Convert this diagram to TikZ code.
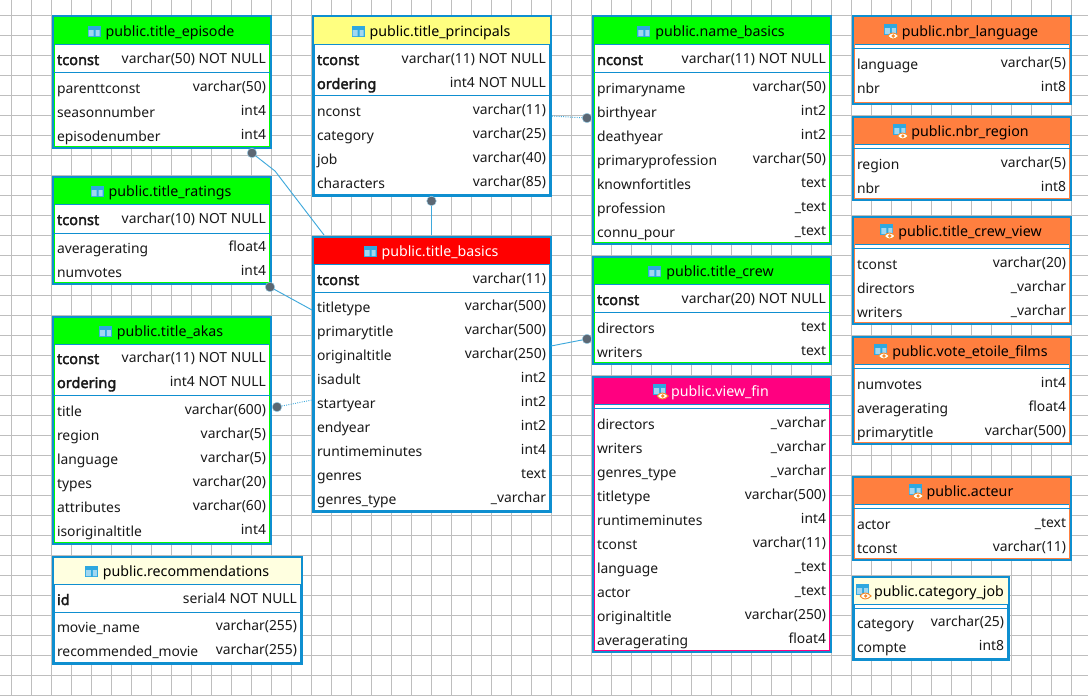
\documentclass[tikz,border=0pt]{standalone}
\usepackage{fontspec}
\setmainfont{Noto Sans}
\newfontfamily\keyf{Noto Sans}[FakeBold=2.5]
\definecolor{tblblue}{HTML}{0F8FD0}
\definecolor{gridc}{HTML}{BEBEBE}
\definecolor{hgreen}{HTML}{00FF00}
\definecolor{hyellow}{HTML}{FFFF80}
\definecolor{hred}{HTML}{FF0000}
\definecolor{hpink}{HTML}{FF0080}
\definecolor{horange}{HTML}{FF7F3F}
\definecolor{hpale}{HTML}{FFFFE0}
\definecolor{dotc}{HTML}{5C6773}
\definecolor{linkc}{HTML}{3FA9DC}
\definecolor{iconb}{HTML}{2FA8E0}
\definecolor{icono}{HTML}{F58A2A}
\tikzset{
  x=0.75pt,y=-0.75pt,
  txt/.style={font=\fontsize{10.4pt}{12pt}\selectfont,inner sep=0pt,outer sep=0pt,text=black!90},
  rowl/.style={txt,anchor=base west},
  rowr/.style={txt,anchor=base east},
  rowk/.style={txt,anchor=base west,font=\fontsize{10.9pt}{12pt}\keyf},
  ttl/.style={txt,anchor=center,font=\fontsize{10.65pt}{12pt}\selectfont},
  tblbox/.style={draw=tblblue,line width=1.7pt,fill=white,anchor=north west,inner sep=0pt,outer sep=0pt},
  sep/.style={draw=tblblue,line width=0.7pt},
  link/.style={draw=linkc,line width=0.7pt},
  linkd/.style={link,densely dotted},
  dot/.style={circle,fill=dotc,draw=linkc!50,line width=0.35pt,minimum size=7.2pt,inner sep=0pt,outer sep=0pt}
}
% #1 name, #2 x0, #3 y0, #4 x1, #5 y1, #6 header fill, #7 header bottom, #8 inner border colour
\newcommand{\tbl}[8]{%
  \node[tblbox,minimum width={(#4-#2-1)*0.75pt},minimum height={(#5-#3-1)*0.75pt}] (#1) at (#2+1,#3+1) {};
  \fill[#6] (#2+2,#3+2) rectangle (#4-1.5,#7);
  \draw[sep] (#2+2,#7) -- (#4-1.5,#7);
  \draw[#8,line width=0.75pt] (#2+2.5,#7) -- (#2+2.5,#5-1.5) -- (#4-2,#5-1.5) -- (#4-2,#7);
}
% #1 name prefix, #2 x0, #3 x1, #4 list y/left/right
\newcommand{\rows}[4]{%
  \foreach \yy/\ll/\rr [count=\ii] in {#4} {
    \node[rowl] (#1l\ii) at (#2+5,\yy+5) {\ll};
    \node[rowr] (#1r\ii) at (#3-5,\yy+3) {\rr};
  }
}
\newcommand{\keys}[4]{%
  \foreach \yy/\ll/\rr [count=\ii] in {#4} {
    \node[rowk] (#1k\ii) at (#2+5,\yy+6) {\ll};
    \node[rowr] (#1s\ii) at (#3-5,\yy+4) {\rr};
  }
}
% #1 name, #2 centre x, #3 y, #4 text, #5 colour
\newcommand{\ttlt}[5]{%
  \node[ttl,text=#5] (#1t) at (#2+9,#3+2) {#4};
  \begin{scope}[shift={(#1t.west)}]
    \fill[iconb] (-18,-7) rectangle (-5,4);
    \fill[white,opacity=.55] (-17,-3) rectangle (-12,3) (-10,-3) rectangle (-6,3);
  \end{scope}
}
\newcommand{\ttlv}[5]{%
  \node[ttl,text=#5] (#1t) at (#2+9,#3+2) {#4};
  \begin{scope}[shift={(#1t.west)}]
    \fill[iconb] (-18,-9) rectangle (-5,2);
    \fill[white,opacity=.55] (-17,-5) rectangle (-12,1) (-10,-5) rectangle (-6,1);
    \draw[icono,line width=0.7pt,fill=white] (-14,3) .. controls (-11,-1) and (-7,-1) .. (-3,3) .. controls (-7,7) and (-11,7) .. (-14,3);
    \fill[icono] (-8.5,3) circle (1.8);
  \end{scope}
}
\newcommand{\dbl}[3]{\draw[sep] (#1+2,#3) -- (#2-1.5,#3);}
\begin{document}
\begin{tikzpicture}
\useasboundingbox (0,0) rectangle (1088,696);
\fill[white] (0,0) rectangle (1088,696);
\foreach \gx in {11.5,31.5,...,1080} \draw[gridc,line width=0.75pt] (\gx,0) -- (\gx,696);
\foreach \gy in {15.5,35.5,...,696} \draw[gridc,line width=0.75pt] (0,\gy) -- (1088,\gy);

% title_episode
\tbl{episode}{52}{15}{271}{148}{hgreen}{44}{hgreen}
\ttlt{episode}{161}{31}{public.title\_episode}{black}
\keys{ep}{52}{271}{59/tconst/varchar(50) NOT NULL}
\dbl{52}{271}{72}
\rows{ep}{52}{271}{88/parenttconst/varchar(50),112/seasonnumber/int4,136/episodenumber/int4}

% title_ratings
\tbl{ratings}{52}{176}{271}{284}{hgreen}{204}{hgreen}
\ttlt{ratings}{161}{191}{public.title\_ratings}{black}
\keys{ra}{52}{271}{219/tconst/varchar(10) NOT NULL}
\dbl{52}{271}{233}
\rows{ra}{52}{271}{248/averagerating/float4,272/numvotes/int4}

% title_akas
\tbl{akas}{52}{316}{271}{544}{hgreen}{344}{hgreen}
\ttlt{akas}{161}{331}{public.title\_akas}{black}
\keys{ak}{52}{271}{358/tconst/varchar(11) NOT NULL,382/ordering/int4 NOT NULL}
\dbl{52}{271}{395}
\rows{ak}{52}{271}{411/title/varchar(600),435/region/varchar(5),459/language/varchar(5),483/types/varchar(20),507/attributes/varchar(60),531/isoriginaltitle/int4}

% recommendations
\tbl{recommendations}{52}{556}{302}{664}{hpale}{584}{tblblue}
\ttlt{recommendations}{177}{571}{public.recommendations}{black}
\keys{re}{52}{302}{599/id/serial4 NOT NULL}
\dbl{52}{302}{612}
\rows{re}{52}{302}{627/movie\_name/varchar(255),651/recommended\_movie/varchar(255)}

% title_principals
\tbl{principals}{312}{15}{551}{196}{hyellow}{44}{tblblue}
\ttlt{principals}{431}{31}{public.title\_principals}{black}
\keys{pr}{312}{551}{59/tconst/varchar(11) NOT NULL,83/ordering/int4 NOT NULL}
\dbl{312}{551}{95}
\rows{pr}{312}{551}{111/nconst/varchar(11),135/category/varchar(25),159/job/varchar(40),183/characters/varchar(85)}

% title_basics
\tbl{basics}{312}{236}{551}{512}{hred}{264}{tblblue}
\ttlt{basics}{431}{251}{public.title\_basics}{white}
\keys{ba}{312}{551}{279/tconst/varchar(11)}
\dbl{312}{551}{292}
\rows{ba}{312}{551}{307/titletype/varchar(500),331/primarytitle/varchar(500),355/originaltitle/varchar(250),379/isadult/int2,403/startyear/int2,427/endyear/int2,451/runtimeminutes/int4,475/genres/text,499/genres\_type/\_varchar}

% name_basics
\tbl{name}{592}{15}{831}{244}{hgreen}{44}{hgreen}
\ttlt{name}{711}{31}{public.name\_basics}{black}
\keys{na}{592}{831}{59/nconst/varchar(11) NOT NULL}
\dbl{592}{831}{72}
\rows{na}{592}{831}{88/primaryname/varchar(50),112/birthyear/int2,136/deathyear/int2,160/primaryprofession/varchar(50),184/knownfortitles/text,208/profession/\_text,232/connu\_pour/\_text}

% title_crew
\tbl{crew}{592}{256}{831}{364}{hgreen}{284}{hgreen}
\ttlt{crew}{711}{271}{public.title\_crew}{black}
\keys{cr}{592}{831}{299/tconst/varchar(20) NOT NULL}
\dbl{592}{831}{312}
\rows{cr}{592}{831}{328/directors/text,352/writers/text}

% view_fin
\tbl{viewfin}{592}{376}{831}{652}{hpink}{404}{hpink}
\ttlv{viewfin}{711}{391}{public.view\_fin}{white}
\dbl{592}{831}{408}
\rows{vf}{592}{831}{424/directors/\_varchar,448/writers/\_varchar,472/genres\_type/\_varchar,496/titletype/varchar(500),520/runtimeminutes/int4,544/tconst/varchar(11),568/language/\_text,592/actor/\_text,616/originaltitle/varchar(250),640/averagerating/float4}

% nbr_language
\tbl{nbrlang}{852}{15}{1071}{104}{horange}{44}{horange}
\ttlv{nbrlang}{961}{31}{public.nbr\_language}{black}
\dbl{852}{1071}{48}
\rows{nl}{852}{1071}{64/language/varchar(5),88/nbr/int8}

% nbr_region
\tbl{nbrreg}{852}{116}{1071}{200}{horange}{144}{horange}
\ttlv{nbrreg}{961}{131}{public.nbr\_region}{black}
\dbl{852}{1071}{148}
\rows{nr}{852}{1071}{164/region/varchar(5),188/nbr/int8}

% title_crew_view
\tbl{crewview}{852}{216}{1071}{324}{horange}{244}{horange}
\ttlv{crewview}{961}{231}{public.title\_crew\_view}{black}
\dbl{852}{1071}{248}
\rows{cv}{852}{1071}{264/tconst/varchar(20),288/directors/\_varchar,312/writers/\_varchar}

% vote_etoile_films
\tbl{vote}{852}{336}{1071}{444}{horange}{364}{horange}
\ttlv{vote}{961}{351}{public.vote\_etoile\_films}{black}
\dbl{852}{1071}{368}
\rows{vo}{852}{1071}{384/numvotes/int4,408/averagerating/float4,432/primarytitle/varchar(500)}

% acteur
\tbl{acteur}{852}{476}{1071}{560}{horange}{504}{horange}
\ttlv{acteur}{961}{491}{public.acteur}{black}
\dbl{852}{1071}{508}
\rows{ac}{852}{1071}{524/actor/\_text,548/tconst/varchar(11)}

% category_job
\tbl{catjob}{852}{576}{1009}{660}{hpale}{604}{tblblue}
\ttlv{catjob}{930}{591}{public.category\_job}{black}
\dbl{852}{1009}{608}
\rows{cj}{852}{1009}{623/category/varchar(25),647/compte/int8}

% connectors
\node[dot] (d1) at (252,153) {};
\node[dot] (d2) at (270,287) {};
\node[dot] (d3) at (277,407) {};
\node[dot] (d4) at (431.5,201) {};
\node[dot] (d5) at (587,118) {};
\node[dot] (d6) at (587,339) {};
\coordinate (b1) at (275,171);
\coordinate (e1) at (324,235);
\coordinate (e2) at (312,310);
\coordinate (e3) at (312,400);
\coordinate (e4) at (431.5,235);
\coordinate (e5) at (551,116);
\coordinate (e6) at (551,346);
\draw[link] (d1) -- (b1) -- (e1);
\draw[link] (d2) -- (e2);
\draw[linkd] (d3) -- (e3);
\draw[link] (d4) -- (e4);
\draw[linkd] (d5) -- (e5);
\draw[link] (d6) -- (e6);
\end{tikzpicture}
\end{document}
